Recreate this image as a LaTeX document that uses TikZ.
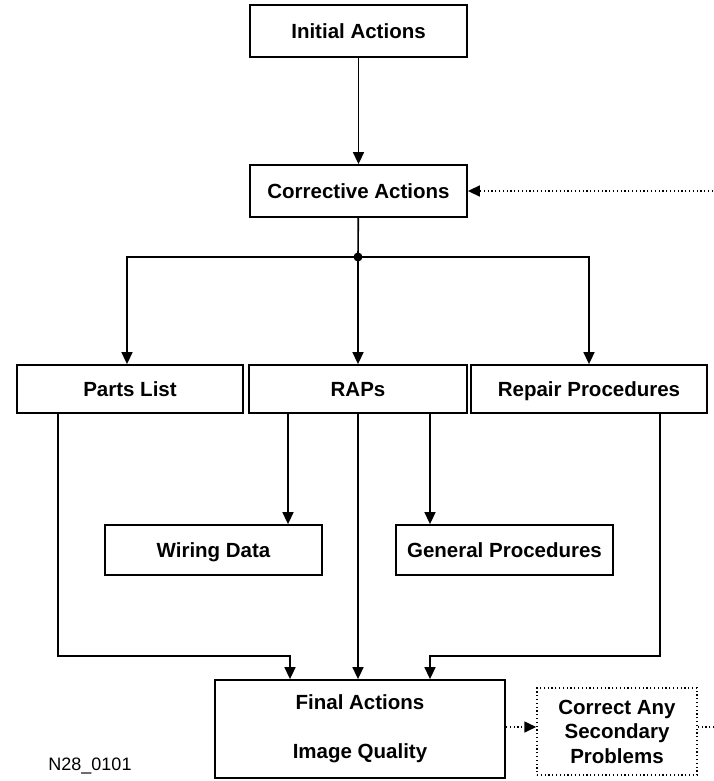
\documentclass[tikz,border=0pt]{standalone}
\usepackage{fontspec}
\setmainfont{Liberation Sans}
\usepackage{tikz}
\usetikzlibrary{
  arrows.meta,
  positioning
}

\begin{document}
\begin{tikzpicture}[x=1pt, y=-1pt,
  abox/.style={draw=black, fill=white, line width=1.8pt,
               minimum width=217pt, minimum height=52pt, inner sep=0pt,
               text height=14.5pt, text depth=0pt,
               font=\fontsize{20.5}{24}\selectfont\bfseries},
  sbox/.style={abox, draw=black, dash pattern=on 1.2pt off 2.6pt, line width=1.5pt},
  flow/.style={line width=1.6pt, -{Triangle[length=12pt, width=11pt]}},
  dflow/.style={flow, dash pattern=on 1.2pt off 2.6pt},
  lbl/.style={font=\fontsize{18}{20}\selectfont, text=black}
]
\useasboundingbox (0,0) rectangle (713,781);

% blocks
\node[abox] (init) at (358.5, 31) {Initial Actions};
\node[abox] (corr) at (358.5, 191) {Corrective Actions};
\node[abox, minimum width=226pt, minimum height=48pt] (parts)  at (130, 389) {Parts List};
\node[abox, minimum width=218pt, minimum height=48pt] (raps)   at (358, 389) {RAPs};
\node[abox, minimum width=236pt, minimum height=48pt] (repair) at (589, 389) {Repair Procedures};
\node[abox, minimum height=50pt] (wiring)  at (213.5, 550) {Wiring Data};
\node[abox, minimum height=50pt] (general) at (504.5, 550) {General Procedures};
\node[abox, minimum width=290pt, minimum height=98pt, align=center,
      text height=, text depth=,
      font=\fontsize{20.5}{49}\selectfont\bfseries] (final) at (360, 729)
      {Final Actions\\Image Quality};
\node[sbox, minimum width=160pt, minimum height=87pt, align=center,
      text height=, text depth=,
      font=\fontsize{20.5}{24.5}\selectfont\bfseries] (second) at (617, 731.5)
      {Correct Any\\Secondary\\Problems};

% figure number
\node[lbl] (fignum) at (90, 766) {N28\_0101};

% branch point and bends
\coordinate (split) at (358, 257);
\coordinate (lbend) at (58, 656);
\coordinate (rbend) at (660, 656);
\coordinate (loopin) at (713, 191);
\coordinate (loopout) at (713, 727);
\fill (split) circle (4.5pt);

% connectors
\draw[flow] (init) -- (corr);
\draw[line width=1.6pt] (corr) -- (split);
\draw[flow] (split) -| ([xshift=-3]parts.north);
\draw[flow] (split) -- (raps);
\draw[flow] (split) -| (repair.north);
\draw[flow] ([xshift=-70]raps.south) -- ([xshift=-70]raps.south |- wiring.north);
\draw[flow] ([xshift=72]raps.south) -- ([xshift=72]raps.south |- general.north);
\draw[flow] (raps) -- (raps |- final.north);
\draw[flow] (parts.south -| lbend) -- (lbend) -| ([xshift=-70]final.north);
\draw[flow] (repair.south -| rbend) -- (rbend) -| ([xshift=70]final.north);
\draw[dflow] (final.east |- loopout) -- (second.west |- loopout);
\draw[line width=1.6pt, dash pattern=on 1.2pt off 2.6pt] (second.east |- loopout) -- (loopout);
\draw[dflow] (loopin) -- (corr.east);

\end{tikzpicture}
\end{document}
